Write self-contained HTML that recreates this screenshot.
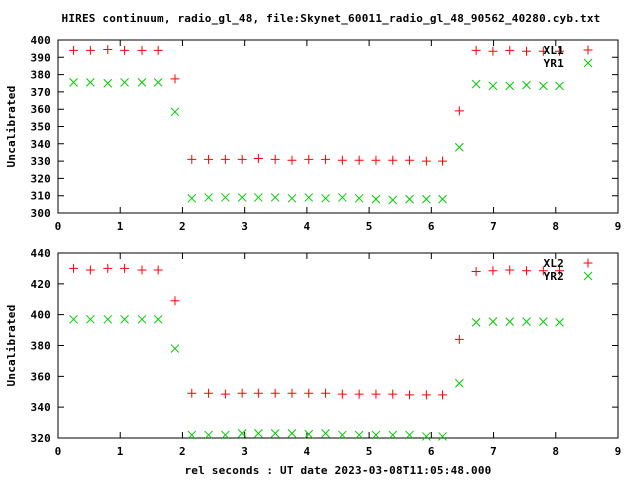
<!DOCTYPE html>
<html><head><meta charset="utf-8"><style>
body{margin:0;background:#fff;width:640px;height:480px;overflow:hidden}
svg text{font-family:"DejaVu Sans Mono","Liberation Mono",monospace;font-weight:bold;font-size:11px;letter-spacing:0.2px;fill:#000}
</style></head><body>
<svg id="chart" width="640" height="480" xmlns="http://www.w3.org/2000/svg">
<text x="331" y="22" text-anchor="middle">HIRES continuum, radio_gl_48, file:Skynet_60011_radio_gl_48_90562_40280.cyb.txt</text>
<text x="338" y="474" text-anchor="middle">rel seconds : UT date 2023-03-08T11:05:48.000</text>
</svg>
<script>
const xs=[0.25,0.52,0.8,1.07,1.35,1.61,1.88,2.15,2.42,2.69,2.96,3.22,3.49,3.76,4.03,4.3,4.57,4.84,5.11,5.38,5.65,5.92,6.18,6.45,6.72,6.99,7.26,7.53,7.8,8.06];
const xl1=[394,394,394.5,394,394,394,377.5,331,331,331,331,331.5,331,330.5,331,331,330.5,330.5,330.5,330.5,330.5,330,330,359,394,393.5,394,393.5,393.5,393.5];
const yr1=[375.5,375.5,375,375.5,375.5,375.5,358.5,308.5,309,309,309,309,309,308.5,309,308.5,309,308.5,308,307.5,308,308,308,338,374.5,373.5,373.5,374,373.5,373.5];
const xl2=[430,429,430,430,429,429,409,349,349,348.5,349,349,349,349,349,349,348.5,348.5,348.5,348.5,348,348,348,384,428,428.5,429,428.5,428.5,428.5];
const yr2=[397,397,397,397,397,397,378,322,322,322,323,323,323,323,322.5,323,322,322,322,322,322,321,321,355.5,395,395.5,395.5,395.5,395.5,395];
const xTicks=[0,1,2,3,4,5,6,7,8,9];
const yTicks1=[300,310,320,330,340,350,360,370,380,390,400];
const yTicks2=[320,340,360,380,400,420,440];
const svg=document.getElementById('chart');
const NS='http://www.w3.org/2000/svg';
function mk(tag,attrs){const e=document.createElementNS(NS,tag);for(const k in attrs)e.setAttribute(k,attrs[k]);svg.appendChild(e);return e;}
function panel(p,top,bot,ymin,ymax,yt,sA,sB,nA,nB,name){
  const L=58,R=618;
  const X=v=>L+(R-L)*v/9, Y=v=>bot-(bot-top)*(v-ymin)/(ymax-ymin);
  const f=mk('rect',{x:L,y:top,width:R-L,height:bot-top,fill:'none',stroke:'#000','stroke-width':1});
  
  
  xTicks.forEach(t=>{
    const l=mk('path',{d:`M${X(t)},${bot}v-6M${X(t)},${top}v6`,stroke:'#000'});
    
    
    const tx=mk('text',{x:X(t),y:bot+17,'text-anchor':'middle'});tx.textContent=t;
    
    
  });
  yt.forEach(t=>{
    const l=mk('path',{d:`M${L},${Y(t)}h6M${R},${Y(t)}h-6`,stroke:'#000'});
    
    
    const tx=mk('text',{x:51,y:Y(t)+4,'text-anchor':'end'});tx.textContent=t;
    
    
  });
  const yl=mk('text',{x:0,y:0,'text-anchor':'middle',transform:`translate(15,${(top+bot)/2}) rotate(-90)`});
  yl.textContent='Uncalibrated';
  
  
  function plus(x,y,n){const e=mk('path',{d:`M${x-4.5},${y}h9M${x},${y-4.5}v9`,stroke:'#f00','stroke-width':1});}
  function cross(x,y,n){const e=mk('path',{d:`M${x-4},${y-4}l8,8M${x-4},${y+4}l8,-8`,stroke:'#0c0','stroke-width':1});}
  xs.forEach((x,i)=>{cross(X(x),Y(sB[i]),name+'-'+nB.toLowerCase()+'-point');});
  xs.forEach((x,i)=>{plus(X(x),Y(sA[i]),name+'-'+nA.toLowerCase()+'-point');});
  const t1=mk('text',{x:564,y:top+14,'text-anchor':'end'});t1.textContent=nA;
  
  
  plus(588,top+10,name+'-legend-marker-'+nA.toLowerCase());
  const t2=mk('text',{x:564,y:top+27,'text-anchor':'end'});t2.textContent=nB;
  
  
  cross(588,top+23,name+'-legend-marker-'+nB.toLowerCase());
}
panel(1,40,213,300,400,yTicks1,xl1,yr1,'XL1','YR1','top-panel');
panel(2,253,438,320,440,yTicks2,xl2,yr2,'XL2','YR2','bottom-panel');
</script>
</body></html>
